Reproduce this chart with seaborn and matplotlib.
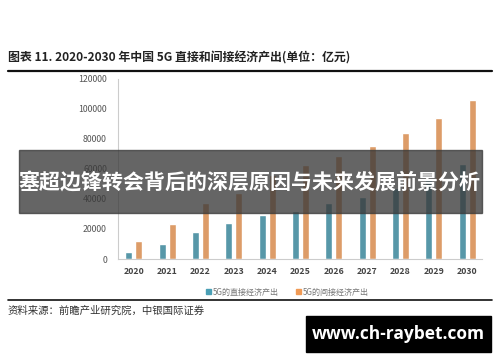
import pandas as pd
import seaborn as sns
import matplotlib.pyplot as plt
from matplotlib.lines import Line2D
from matplotlib.patches import Rectangle

# values (unit: 亿元)
years = ['2020', '2021', '2022', '2023', '2024', '2025', '2026', '2027', '2028', '2029', '2030']
direct = [4800, 10000, 18000, 24000, 29000, 32000, 37000, 41000, 47000, 53000, 63000]
indirect = [12000, 23500, 37000, 44000, 56000, 62700, 68700, 75000, 84000, 94000, 106000]
series_names = ['5G的直接经济产出', '5G的间接经济产出']
colors = ['#4a9fb5', '#f09a55']
yticks = [0, 20000, 40000, 60000, 80000, 100000, 120000]

df = pd.DataFrame({
    'year': years * 2,
    'value': direct + indirect,
    'series': [series_names[0]] * len(years) + [series_names[1]] * len(years),
})

sns.set_style('white')
plt.rcParams['font.family'] = ['Noto Sans CJK SC', 'DejaVu Sans']

fig = plt.figure(figsize=(5, 3.62), dpi=100)
ax = fig.add_axes([0.236, 0.2845, 0.728, 0.4975])

sns.barplot(data=df, x='year', y='value', hue='series', palette=colors,
            width=0.6, gap=0.3, ax=ax, legend=False)

ax.set_xlim(-0.48, 10.45)
ax.set_ylim(0, 120000)
ax.set_yticks(yticks)
ax.set_yticklabels([str(v) for v in yticks])
ax.set_xlabel('')
ax.set_ylabel('')
ax.tick_params(axis='y', labelsize=6.3, colors='#555555', length=0, pad=8)
ax.tick_params(axis='x', labelsize=6.3, colors='#444444', length=0, pad=6)
for lab in ax.get_xticklabels():
    lab.set_fontweight('bold')
for s in ['top', 'right']:
    ax.spines[s].set_visible(False)
for s in ['left', 'bottom']:
    ax.spines[s].set_color('#cccccc')
    ax.spines[s].set_linewidth(0.8)

# legend
handles = [Rectangle((0, 0), 1, 1, color=c) for c in colors]
fig.legend(handles, series_names, loc='center', bbox_to_anchor=(0.575, 0.193),
           ncol=2, frameon=False, fontsize=5.8, handlelength=0.6, handleheight=0.6,
           handletextpad=0.2, columnspacing=2.2, labelcolor='#777777')

# title and rules
fig.text(0.016, 0.84, '图表 11. 2020-2030 年中国 5G 直接和间接经济产出(单位：亿元)',
         fontsize=8.6, fontweight='bold', color='#222222', va='center')
fig.add_artist(Line2D([0.016, 0.984], [0.804, 0.804], color='#111111', lw=1.6,
                      transform=fig.transFigure))
fig.add_artist(Line2D([0.016, 0.984], [0.171, 0.171], color='#111111', lw=1.2,
                      transform=fig.transFigure))
fig.text(0.016, 0.141, '资料来源：前瞻产业研究院，中银国际证券', fontsize=7.5,
         color='#333333', style='italic', va='center')

# overlay banner
fig.add_artist(Rectangle((0.038, 1 - 213 / 362), 0.926, 63 / 362, transform=fig.transFigure,
                         color='#3a3a3a', alpha=0.78, zorder=5))
fig.text(0.499, 1 - 182 / 362, '塞超边锋转会背后的深层原因与未来发展前景分析', fontsize=15.1,
         fontweight='bold', color='white', ha='center', va='center', zorder=6)

# watermark box
fig.add_artist(Rectangle((306 / 500, 1 - 352 / 362), 185 / 500, 36 / 362,
                         transform=fig.transFigure, color='black', zorder=5))
fig.text(398 / 500, 1 - 334 / 362, 'www.ch-raybet.com', fontsize=12.5, fontweight='bold',
         family='Open Sans', color='white', ha='center', va='center', zorder=6)

fig.savefig('out.png', dpi=100)
